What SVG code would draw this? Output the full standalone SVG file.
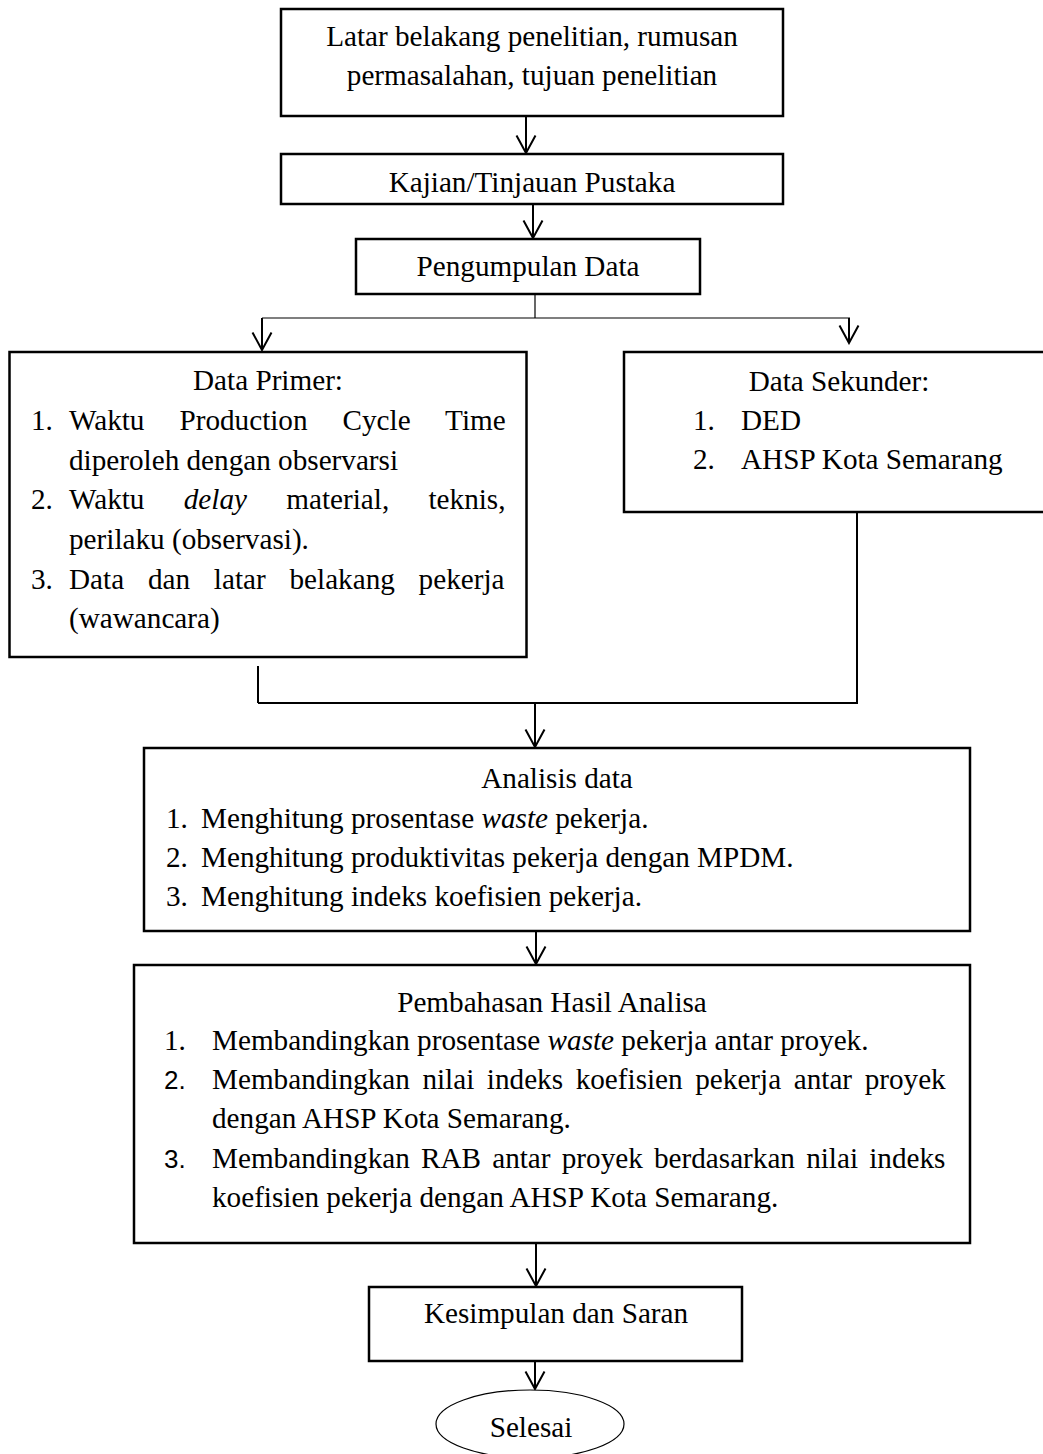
<svg xmlns="http://www.w3.org/2000/svg" width="1043" height="1454" viewBox="0 0 1043 1454">
<style>
.box{fill:#fff;stroke:#000;stroke-width:2.5}
.t{font-family:"Liberation Serif","Times New Roman",serif;font-size:29.2px;fill:#000}
.c{text-anchor:middle}
.i{font-style:italic}
.s{font-family:"Liberation Sans",Arial,sans-serif;font-size:26px}
.ln{fill:none;stroke:#000;stroke-width:2}
.thin{fill:none;stroke:#000;stroke-width:1.2}
</style>
<defs>
<marker id="arr" markerUnits="userSpaceOnUse" viewBox="-20 -12 22 24" refX="0" refY="0" markerWidth="22" markerHeight="24" orient="auto">
<path d="M-17.5 -9.5 L0 0 L-17.5 9.5" fill="none" stroke="#000" stroke-width="2"/>
</marker>
</defs>
<rect width="1043" height="1454" fill="#fff"/>

<g id="connectors">
<path class="ln" d="M526 116 V153" marker-end="url(#arr)"/>
<path class="ln" d="M533 204 V238" marker-end="url(#arr)"/>
<path class="thin" d="M535 294 V318"/>
<path class="thin" d="M262 318 H850"/>
<path class="ln" d="M262 318 V350" marker-end="url(#arr)"/>
<path class="ln" d="M849 318 V343" marker-end="url(#arr)"/>
<path class="ln" d="M258 666 V703"/>
<path class="ln" d="M857 512 V703 H258"/>
<path class="ln" d="M535 703 V747" marker-end="url(#arr)"/>
<path class="ln" d="M536 931 V964" marker-end="url(#arr)"/>
<path class="ln" d="M536 1243 V1286" marker-end="url(#arr)"/>
<path class="ln" d="M535 1361 V1389" marker-end="url(#arr)"/>
</g>

<g id="latar">
<rect class="box" x="281" y="9" width="502" height="107"/>
<text class="t c" x="532" y="46">Latar belakang penelitian, rumusan</text>
<text class="t c" x="532" y="85">permasalahan, tujuan penelitian</text>
</g>

<g id="kajian">
<rect class="box" x="281" y="154" width="502" height="50"/>
<text class="t c" x="532" y="192">Kajian/Tinjauan Pustaka</text>
</g>

<g id="pengumpulan">
<rect class="box" x="356" y="239" width="344" height="55"/>
<text class="t c" x="528" y="276">Pengumpulan Data</text>
</g>

<g id="primer">
<rect class="box" x="9.5" y="352" width="517" height="305"/>
<text class="t c" x="268" y="390">Data Primer:</text>
<text class="t" x="31" y="430">1.</text>
<text class="t" x="69" y="430" word-spacing="27.7">Waktu Production Cycle Time</text>
<text class="t" x="69" y="470">diperoleh dengan observarsi</text>
<text class="t" x="31" y="509">2.</text>
<text class="t" x="69" y="509" word-spacing="32">Waktu <tspan class="i">delay</tspan> material, teknis,</text>
<text class="t" x="69" y="549">perilaku (observasi).</text>
<text class="t" x="31" y="589">3.</text>
<text class="t" x="69" y="589" word-spacing="16.5">Data dan latar belakang pekerja</text>
<text class="t" x="69" y="628">(wawancara)</text>
</g>

<g id="sekunder">
<rect class="box" x="624" y="352" width="425" height="160"/>
<text class="t c" x="839" y="391">Data Sekunder:</text>
<text class="t" x="693" y="430">1.</text>
<text class="t" x="741" y="430">DED</text>
<text class="t" x="693" y="469">2.</text>
<text class="t" x="741" y="469">AHSP Kota Semarang</text>
</g>

<g id="analisis">
<rect class="box" x="144" y="748" width="826" height="183"/>
<text class="t c" x="557" y="788">Analisis data</text>
<text class="t" x="166" y="828">1.</text>
<text class="t" x="201" y="828">Menghitung prosentase <tspan class="i">waste</tspan> pekerja.</text>
<text class="t" x="166" y="867">2.</text>
<text class="t" x="201" y="867">Menghitung produktivitas pekerja dengan MPDM.</text>
<text class="t" x="166" y="906">3.</text>
<text class="t" x="201" y="906">Menghitung indeks koefisien pekerja.</text>
</g>

<g id="pembahasan">
<rect class="box" x="134" y="965" width="836" height="278"/>
<text class="t c" x="552" y="1012">Pembahasan Hasil Analisa</text>
<text class="t" x="164" y="1050">1.</text>
<text class="t" x="212" y="1050">Membandingkan prosentase <tspan class="i">waste</tspan> pekerja antar proyek.</text>
<text class="t s" x="164" y="1089">2.</text>
<text class="t" x="212" y="1089" word-spacing="5.3">Membandingkan nilai indeks koefisien pekerja antar proyek</text>
<text class="t" x="212" y="1128">dengan AHSP Kota Semarang.</text>
<text class="t s" x="164" y="1168">3.</text>
<text class="t" x="212" y="1168" word-spacing="3.9">Membandingkan RAB antar proyek berdasarkan nilai indeks</text>
<text class="t" x="212" y="1207">koefisien pekerja dengan AHSP Kota Semarang.</text>
</g>

<g id="kesimpulan">
<rect class="box" x="369" y="1287" width="373" height="74"/>
<text class="t c" x="556" y="1323">Kesimpulan dan Saran</text>
</g>

<g id="selesai">
<ellipse cx="530" cy="1424" rx="94" ry="34" fill="#fff" stroke="#000" stroke-width="1.2"/>
<text class="t c" x="531" y="1437">Selesai</text>
</g>
</svg>
